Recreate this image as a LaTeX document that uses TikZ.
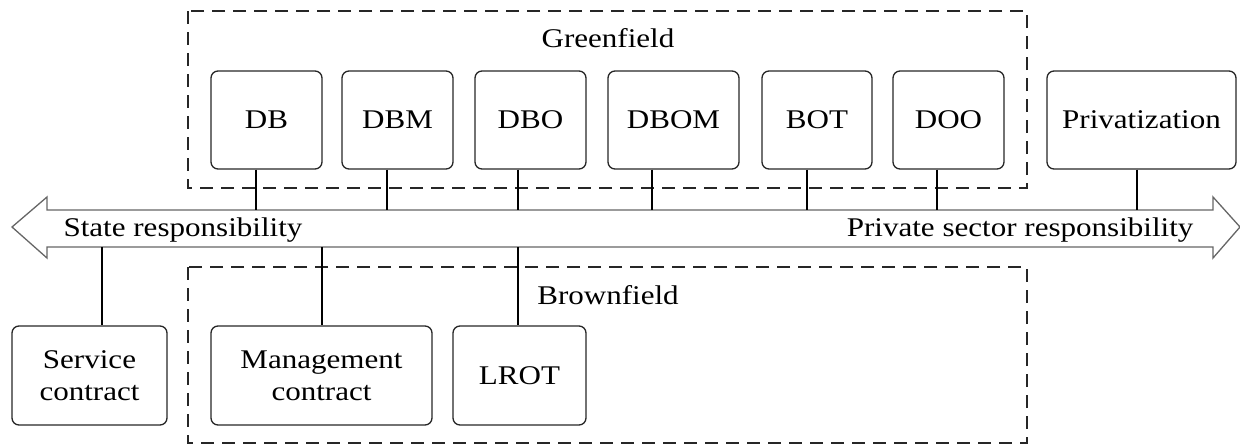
\documentclass[tikz,border=0pt]{standalone}
\usepackage{fontspec}
\setmainfont[FakeStretch=1.15]{Liberation Serif}
\usepackage{tikz}

\begin{document}
\begin{tikzpicture}[x=1pt,y=-1pt,
  every node/.style={font=\fontsize{27}{32}\selectfont},
  box/.style={draw=black!85,line width=1.3pt,rounded corners=7pt,inner sep=0pt,minimum height=98pt,align=center},
  group/.style={draw=black!85,line width=1.5pt,dash pattern=on 13pt off 8pt},
  link/.style={line width=1.3pt}]
\useasboundingbox (0,0) rectangle (1240,445);

% greenfield and brownfield groups
\draw[group] (188,11) rectangle (1027,188);
\node[anchor=base] (green) at (608,47) {Greenfield};
\draw[group] (188,267) rectangle (1027,443);
\node[anchor=base] (brown) at (608,304) {Brownfield};

% responsibility axis
\draw[line width=1.3pt,draw=black!60] (12,227) -- (47,197) -- (47,210) -- (1213,210) -- (1213,197) -- (1240,227) -- (1213,258) -- (1213,247) -- (47,247) -- (47,258) -- cycle;
\coordinate (shaftN) at (0,210);
\coordinate (shaftS) at (0,247);
\node[anchor=base west] (state) at (60,236) {State responsibility};
\node[anchor=base east] (private) at (1197,236) {Private sector responsibility};

% upper models
\node[box,minimum width=111pt] (db) at (266.5,120) {DB};
\node[box,minimum width=111pt] (dbm) at (397.5,120) {DBM};
\node[box,minimum width=111pt] (dbo) at (530.5,120) {DBO};
\node[box,minimum width=131pt] (dbom) at (673.5,120) {DBOM};
\node[box,minimum width=110pt] (bot) at (817,120) {BOT};
\node[box,minimum width=111pt] (doo) at (948.5,120) {DOO};
\node[box,minimum width=189pt] (priv) at (1141.5,120) {Privatization};

% lower models
\node[box,minimum width=155pt,minimum height=99pt] (service) at (89.5,375.5) {Service\\contract};
\node[box,minimum width=221pt,minimum height=99pt] (mgmt) at (321.5,375.5) {Management\\contract};
\node[box,minimum width=133pt,minimum height=99pt] (lrot) at (519.5,375.5) {LROT};

\foreach \n/\x in {db/256,dbm/387,dbo/518,dbom/652,bot/807,doo/937,priv/1137}
  \draw[link] (\x,0 |- \n.south) -- (\x,0 |- shaftN);
\foreach \n/\x in {service/102,mgmt/322,lrot/518}
  \draw[link] (\x,0 |- shaftS) -- (\x,0 |- \n.north);
\end{tikzpicture}
\end{document}
